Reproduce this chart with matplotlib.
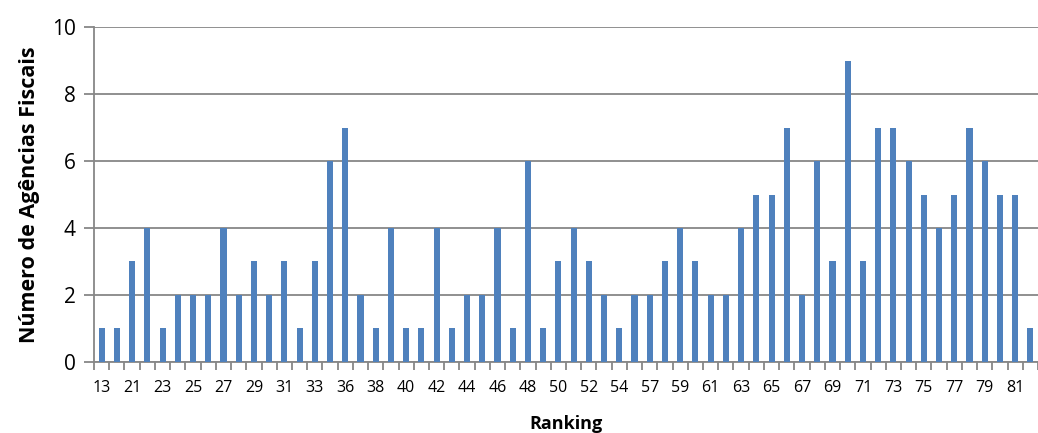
import numpy as np
import matplotlib.pyplot as plt

# Ranking das agências (categorias do eixo x)
ranking = [13, 20, 21, 22, 23, 24, 25, 26, 27, 28, 29, 30, 31, 32, 33, 35,
           36, 37, 38, 39, 40, 41, 42, 43, 44, 45, 46, 47, 48, 49, 50, 51,
           52, 53, 54, 56, 57, 58, 59, 60, 61, 62, 63, 64, 65, 66, 67, 68,
           69, 70, 71, 72, 73, 74, 75, 76, 77, 78, 79, 80, 81, 82]

# Número de agências fiscais por posição
agencias = [1, 1, 3, 4, 1, 2, 2, 2, 4, 2, 3, 2, 3, 1, 3, 6,
            7, 2, 1, 4, 1, 1, 4, 1, 2, 2, 4, 1, 6, 1, 3, 4,
            3, 2, 1, 2, 2, 3, 4, 3, 2, 2, 4, 5, 5, 7, 2, 6,
            3, 9, 3, 7, 7, 6, 5, 4, 5, 7, 6, 5, 5, 1]

plt.rcParams['font.family'] = ['Open Sans', 'DejaVu Sans']

fig = plt.figure(figsize=(10.38, 4.33), dpi=100)
ax = fig.add_axes([0.0906, 0.164, 0.9094, 0.7736])

x = np.arange(len(ranking))
ax.bar(x, agencias, width=0.4, color='#4F81BD', zorder=3)

ax.set_xlim(-0.5, 61.06)
ax.set_ylim(0, 10)
ax.set_yticks(range(0, 11, 2))
ax.yaxis.grid(True, color='#878787', linewidth=1.3)
ax.set_axisbelow(True)

# rótulos só em categorias alternadas, marcas entre as categorias
ax.set_xticks(x[::2])
ax.set_xticklabels([str(r) for r in ranking[::2]], fontsize=11.5)
ax.set_xticks(np.arange(-0.5, len(ranking), 1), minor=True)
ax.tick_params(axis='x', which='major', length=0, pad=13)
ax.tick_params(axis='x', which='minor', length=6, width=1.3, color='#878787')
ax.tick_params(axis='y', length=7, width=1.3, color='#878787', labelsize=15, pad=6)

for side in ['top', 'right']:
    ax.spines[side].set_visible(False)
for side in ['left', 'bottom']:
    ax.spines[side].set_color('#878787')
    ax.spines[side].set_linewidth(1.3)

ax.set_xlabel('Ranking', fontsize=13, fontweight='bold', labelpad=14)
ax.set_ylabel('Número de Agências Fiscais', fontsize=15.5, fontweight='bold', labelpad=9)

fig.savefig('out.png', dpi=100)
